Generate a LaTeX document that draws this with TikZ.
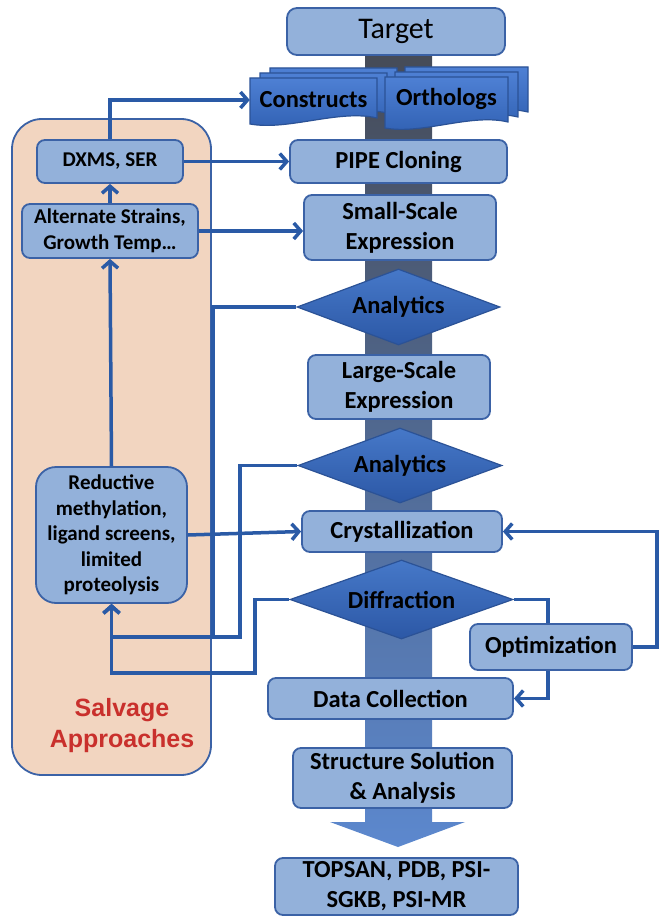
\documentclass[tikz,border=0pt]{standalone}
\usepackage{fontspec}
\setmainfont{Carlito}
\newfontfamily\salvfont{Liberation Sans}
\usetikzlibrary{arrows.meta,shapes.geometric}
\definecolor{boxfill}{HTML}{93B1DA}
\definecolor{boxdraw}{HTML}{3B62A6}
\definecolor{dtop}{HTML}{4678C8}
\definecolor{dbot}{HTML}{2C58A6}
\definecolor{ddraw}{HTML}{2B5296}
\definecolor{conn}{HTML}{2A5AA6}
\definecolor{peach}{HTML}{F2D5C0}
\definecolor{salvred}{HTML}{C9302C}
\definecolor{spinetop}{HTML}{464B57}
\definecolor{spinemid}{HTML}{566F9E}
\definecolor{spinebot}{HTML}{5C88CE}
\definecolor{doctop}{HTML}{4E80D4}
\definecolor{docbot}{HTML}{3060B2}
\newcommand{\docsheet}[4]{%
  \path[docstyle] (#1,#2) -- (#3,#2) -- (#3,#4-6)
    .. controls ({#1+0.7*(#3-#1)},#4-15) and ({#1+0.3*(#3-#1)},#4+7) .. (#1,#4) -- cycle;}
\tikzset{
  box/.style={draw=boxdraw, line width=1.8pt, fill=boxfill, rounded corners=8pt,
    inner sep=0pt, align=center, font=\bfseries\fontsize{24.5}{30}\selectfont},
  sbox/.style={box, font=\bfseries\fontsize{21}{25.5}\selectfont},
  dia/.style={diamond, draw=ddraw, line width=1.2pt, top color=dtop, bottom color=dbot,
    inner sep=0pt, shape aspect=2.7, font=\bfseries\fontsize{24.5}{30}\selectfont},
  docstyle/.style={draw=ddraw, line width=1.2pt, top color=doctop, bottom color=docbot},
  conn/.style={draw=conn, line width=3.5pt, -{Straight Barb[length=7pt,width=16pt]}}
}
\begin{document}
\begin{tikzpicture}[x=1pt,y=-1pt]
\useasboundingbox (0,0) rectangle (662,917);
% spine arrow
\shade[top color=spinetop, middle color=spinemid, bottom color=spinebot]
  (365,50) -- (432,50) -- (432,822) -- (465,822) -- (398,847) -- (330,822) -- (365,822) -- cycle;
% salvage panel
\draw[fill=peach, draw=boxdraw, line width=1.8pt, rounded corners=30pt] (12,119) rectangle (211,775);
\node[font=\salvfont\bfseries\fontsize{25}{31}\selectfont, text=salvred, align=center] (salv) at (122,726) {Salvage\\Approaches};
% main column
\node[box, font=\fontsize{30}{34}\selectfont, minimum width=218pt, minimum height=47pt, rounded corners=10pt] (target) at (396,31.5) {Target};
% document stacks
\docsheet{270}{68}{397}{114}
\docsheet{260}{73}{387}{119}
\docsheet{250}{78}{377}{124}
\docsheet{405}{67}{528}{118}
\docsheet{395}{72}{518}{123}
\docsheet{385}{77}{508}{128}
\node[font=\bfseries\fontsize{24.5}{30}\selectfont, minimum width=127pt, minimum height=40pt, inner sep=0pt] (cons) at (313.5,100) {Constructs};
\node[font=\bfseries\fontsize{24.5}{30}\selectfont, minimum width=123pt, minimum height=40pt, inner sep=0pt] (orth) at (446.5,99) {Orthologs};
\node[box, minimum width=217pt, minimum height=43pt] (pipe) at (398.5,161.5) {PIPE Cloning};
\node[box, minimum width=192pt, minimum height=65pt] (small) at (400,227.5) {Small-Scale\\Expression};
\node[dia, minimum width=203pt, minimum height=76pt] (ana1) at (398.5,307) {Analytics};
\node[box, minimum width=182pt, minimum height=64pt] (large) at (399,387) {Large-Scale\\Expression};
\node[dia, minimum width=204pt, minimum height=75pt] (ana2) at (400,465.5) {Analytics};
\node[box, minimum width=200pt, minimum height=41pt] (cryst) at (402,531.5) {Crystallization};
\node[dia, minimum width=223pt, minimum height=79pt] (diff) at (401.5,599.5) {Diffraction};
\node[box, minimum width=245pt, minimum height=41pt] (data) at (390.5,698.5) {Data Collection};
\node[box, minimum width=219pt, minimum height=60pt] (struct) at (402.5,778) {Structure Solution\\\& Analysis};
\node[box, minimum width=243pt, minimum height=57pt] (topsan) at (396.5,886.5) {TOPSAN, PDB, PSI-\\SGKB, PSI-MR};
% salvage boxes
\node[sbox, minimum width=146pt, minimum height=43pt] (dxms) at (110,161.5) {DXMS, SER};
\node[sbox, minimum width=176pt, minimum height=54pt] (alt) at (110,231) {Alternate Strains,\\Growth Temp\ldots};
\node[sbox, minimum width=151pt, minimum height=136pt, rounded corners=20pt] (red) at (111.5,535) {Reductive\\methylation,\\ligand screens,\\limited\\proteolysis};
% connectors
\coordinate (dr) at (548,698.5);
\coordinate (orr) at (657,531.5);
\draw[conn] (diff.east) -| (dr) -- (data.east);
\node[box, minimum width=162pt, minimum height=46pt] (opt) at (551,647) {Optimization};
\draw[conn] (opt.east) -| (orr) -- (cryst.east);
\draw[conn] (dxms.north) |- (cons.west);
\draw[conn] (dxms.east) -- (pipe.west);
\draw[conn] (alt.east) -- (alt.east -| small.west);
\draw[conn] (alt.north) -- (dxms.south);
\draw[conn] (red.north) -- (alt.south);
\draw[conn] (red.east) -- (cryst.west);
\coordinate (a1) at (213,637);
\coordinate (a2) at (240,637);
\coordinate (d1) at (255,673);
\draw[conn] (ana1.west) -| (a1) -| (red.south);
\draw[conn] (ana2.west) -| (a2) -| (red.south);
\draw[conn] (diff.west) -| (d1) -| (red.south);
\end{tikzpicture}
\end{document}
